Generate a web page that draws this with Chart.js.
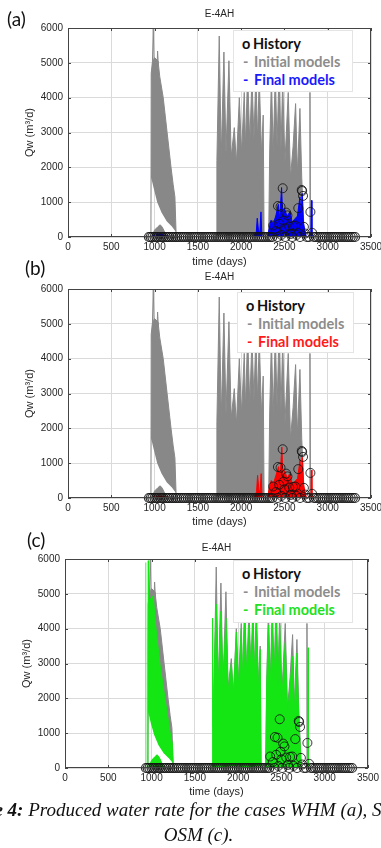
<!DOCTYPE html>
<html lang="en">
<head>
<meta charset="UTF-8">
<title>E-4AH produced water rate</title>
<script src="https://cdn.jsdelivr.net/npm/chart.js"></script>
<style>
    body { margin: 0; background: #fff; }
    #page { position: relative; width: 381px; height: 848px; overflow: hidden; background: #fff; }
    canvas { position: absolute; left: 0; }
    .tag { position: absolute; font-family: Lato, sans-serif; font-size: 19px; line-height: 22px; color: #111; }
    .leg { position: absolute; background: #fff; border: 1px solid #e4e4e4; box-sizing: border-box;
           padding: 4px 0 0 8px; font-family: Lato, sans-serif; font-weight: bold; font-size: 14.5px;
           line-height: 18px; white-space: nowrap; }
    .leg .m { display: inline-block; width: 11px; }
    .leg .d { display: inline-block; width: 12px; text-indent: 1px; }
    .cap { position: absolute; font-family: 'Liberation Serif', serif; font-style: italic; font-size: 19px;
           line-height: 22px; white-space: nowrap; color: #111; }
</style>
</head>
<body>
<div id="page">
    <canvas id="cA" width="381" height="270" style="top:0;width:381px;height:270px"></canvas>
    <canvas id="cB" width="381" height="268" style="top:262px;width:381px;height:268px"></canvas>
    <canvas id="cC" width="381" height="270" style="top:531px;width:381px;height:270px"></canvas>

    <div class="tag" style="left:7px;top:8px">(a)</div>
    <div class="tag" style="left:25px;top:257px">(b)</div>
    <div class="tag" style="left:27px;top:529px">(c)</div>

    <div class="leg" style="left:233px;top:30px;width:120px;height:62px">
        <div style="color:#111"><span class="m">o</span>History</div>
        <div style="color:#8c8c8c"><span class="d">-</span>Initial models</div>
        <div style="color:#1a1aff"><span class="d">-</span>Final models</div>
    </div>
    <div class="leg" style="left:237px;top:292px;width:117px;height:61px">
        <div style="color:#111"><span class="m">o</span>History</div>
        <div style="color:#8c8c8c"><span class="d">-</span>Initial models</div>
        <div style="color:#ff1a1a"><span class="d">-</span>Final models</div>
    </div>
    <div class="leg" style="left:233px;top:560px;width:120px;height:63px">
        <div style="color:#111"><span class="m">o</span>History</div>
        <div style="color:#8c8c8c"><span class="d">-</span>Initial models</div>
        <div style="color:#22e022"><span class="d">-</span>Final models</div>
    </div>

    <div class="cap" style="left:-51px;top:799px"><b>Figure 4:</b> Produced water rate for the cases WHM (a), SHM (b) and</div>
    <div class="cap" style="left:8px;top:824px;width:381px;text-align:center">OSM (c).</div>
</div>

<script>
    // axes
    const xTicks = [0, 500, 1000, 1500, 2000, 2500, 3000, 3500];
    const yTicks = [0, 1000, 2000, 3000, 4000, 5000, 6000];

    // initial models (same ensemble in all three panels)
    const initEarlyTop_t = [958, 961, 975, 1000, 1040, 1060, 1100, 1145, 1190, 1215, 1235, 1250];
    const initEarlyTop_q = [0, 4700, 5000, 5150, 5050, 4600, 4000, 3000, 2000, 1500, 1150, 0];
    const initEarlyLow_t = [958, 961, 990, 1030, 1080, 1140, 1200, 1245, 1250];
    const initEarlyLow_q = [0, 1700, 1400, 1000, 700, 450, 300, 150, 0];
    const initHump_t = [965, 1000, 1040, 1065, 1090, 1120, 1150];
    const initHump_q = [0, 200, 300, 350, 280, 120, 0];
    const initSpike_t = [970, 985, 996, 1010, 1026, 1035, 1044, 1500, 2788, 2795, 2802];
    const initSpike_q = [4500, 6000, 4800, null, 4700, 5340, 4900, null, 0, 4150, 0];
    const initLate_t = [1712, 1720, 1747, 1770, 1801, 1825, 1859, 1885, 1921, 1945, 1979, 2005, 2036, 2050,
        2075, 2100, 2125, 2148, 2170, 2190, 2209, 2235, 2255, 2265, 2318, 2330, 2350, 2370, 2395, 2415,
        2440, 2460, 2480, 2505, 2544, 2570, 2600, 2629, 2650, 2679, 2700, 2730];
    const initLate_q = [0, 2200, 5770, 2300, 5310, 2400, 5060, 2300, 3140, 2100, 4000, 2400, 4150, 2600,
        4700, 2700, 4600, 2800, 4700, 2800, 4600, 2400, 3500, 0, 0, 2500, 4600, 2400, 4700, 2600,
        5000, 2500, 4500, 2100, 4150, 1700, 2600, 3830, 1800, 3690, 1700, 0];

    // final models, WHM (a)
    const whm_t = [960, 990, 1020, 1050, 1080, 1110, 1140, 1200, 1250, 1700, 2140, 2175, 2186, 2200, 2215,
        2229, 2240, 2305, 2320, 2345, 2370, 2400, 2429, 2445, 2467, 2480, 2500, 2530, 2563, 2590, 2620,
        2650, 2679, 2690, 2705, 2720, 2740, 2755, 2780, 2805, 2812, 2818];
    const whm_q = [0, 60, 90, 70, 90, 40, 30, 10, 0, null, 0, 150, 540, 200, 100,
        720, 0, 0, 200, 480, 380, 600, 940, 500, 1420, 650, 820, 600, 720, 420, 520,
        600, 1150, 500, 1250, 400, 150, 0, null, 0, 1050, 0];

    // final models, SHM (b)
    const shm_t = [960, 1000, 1040, 1080, 1120, 1250, 1700, 2150, 2178, 2190, 2205, 2218, 2231, 2242, 2305,
        2322, 2348, 2372, 2402, 2432, 2448, 2470, 2482, 2503, 2532, 2560, 2592, 2622, 2652, 2680, 2692,
        2706, 2722, 2742, 2758, 2780, 2806, 2812, 2818];
    const shm_q = [0, 40, 60, 50, 30, 0, null, 0, 180, 650, 250, 120, 700, 0, 0,
        250, 500, 400, 650, 900, 520, 1460, 620, 780, 560, 700, 400, 480, 560, 1100, 480,
        1170, 380, 120, 0, null, 0, 800, 0];

    // final models, OSM (c)
    const osmEarlyTop_t = [955, 958, 962, 966, 975, 1000, 1020, 1036, 1051, 1097, 1155, 1212, 1240, 1252];
    const osmEarlyTop_q = [0, 3500, 5950, 4600, 4800, 4900, 4950, 4400, 4000, 2960, 2000, 1040, 700, 0];
    const osmEarlyLow_t = [955, 962, 990, 1030, 1080, 1140, 1200, 1245, 1252];
    const osmEarlyLow_q = [0, 1600, 1300, 950, 650, 420, 280, 150, 0];
    const osmHump_t = [970, 1000, 1040, 1065, 1090, 1120, 1150];
    const osmHump_q = [0, 220, 330, 380, 300, 130, 0];
    const osmFaint_t = [930, 933, 936];
    const osmFaint_q = [0, 5900, 0];
    const osmLate_t = [1700, 1705, 1710, 1722, 1747, 1770, 1801, 1825, 1859, 1885, 1921, 1945, 1979, 2005,
        2036, 2050, 2075, 2100, 2125, 2148, 2170, 2190, 2213, 2235, 2255, 2265, 2318, 2330, 2350, 2370,
        2395, 2415, 2440, 2460, 2480, 2505, 2544, 2570, 2600, 2629, 2650, 2679, 2700, 2730, 2803, 2808, 2813];
    const osmLate_q = [0, 4300, 1200, 2600, 4700, 2300, 4500, 2300, 4300, 2200, 3000, 2000, 3900, 2300,
        4000, 2500, 4300, 2600, 4100, 2700, 4200, 2700, 4200, 2200, 3400, 0, 0, 2400, 4100, 2300,
        4200, 2500, 4300, 2300, 4100, 2000, 3600, 1500, 2400, 3200, 1600, 3300, 1400, 0, 0, 3450, 0];

    // history
    const histZero_t = [935, 955, 975, 1000, 1020, 1040, 1065, 1085, 1105, 1130, 1150, 1170, 1195, 1215, 1240,
        1260, 1285, 1310, 1335, 1360, 1385, 1410, 1435, 1460, 1485, 1510, 1535, 1560, 1585, 1610, 1635,
        1660, 1685, 1710, 1735, 1760, 1785, 1810, 1835, 1860, 1885, 1910, 1935, 1960, 1985, 2010, 2035,
        2060, 2085, 2110, 2135, 2160, 2185, 2210, 2235, 2260, 2285, 2310, 2335, 2360, 2420, 2510, 2590,
        2680, 2760, 2785, 2840, 2865, 2890, 2915, 2940, 2965, 2990, 3015, 3040, 3065, 3090, 3115, 3140,
        3165, 3190, 3215, 3240, 3265, 3290, 3315];
    const hist_t = [2370, 2400, 2425, 2440, 2455, 2465, 2480, 2490, 2500, 2520, 2535, 2555, 2575, 2600, 2625,
        2640, 2660, 2700, 2705, 2715, 2725, 2740, 2800, 2820];
    const hist_q = [330, 170, 890, 380, 870, 60, 1400, 470, 250, 700, 620, 300, 90, 320, 330,
        60, 830, 1350, 1320, 1180, 290, 100, 720, 120];

    const GRAY = '#888888';
    const FONT = "'Liberation Sans', Arial, sans-serif";
    const INK = '#262626';

    function pts(t, q) {
        return t.map((x, i) => ({ x: x, y: q[i] }));
    }

    function line(t, q, color, fill, width) {
        return {
            data: pts(t, q), borderColor: color, backgroundColor: color,
            borderWidth: width === undefined ? 1 : width,
            pointRadius: 0, fill: fill, tension: 0
        };
    }

    function historySets() {
        return [
            { data: histZero_t.map(x => ({ x: x, y: 0 })), showLine: false, pointRadius: 4.5,
              pointBorderColor: 'rgba(20,20,20,0.9)', pointBackgroundColor: 'rgba(0,0,0,0)',
              pointBorderWidth: 1.2, clip: 8 },
            { data: pts(hist_t, hist_q), showLine: false, pointRadius: 4.5,
              pointBorderColor: 'rgba(20,20,20,0.85)', pointBackgroundColor: 'rgba(0,0,0,0)',
              pointBorderWidth: 1, clip: 8 }
        ];
    }

    function initialSets() {
        return [
            line(initSpike_t, initSpike_q, GRAY, false),
            line(initLate_t, initLate_q, GRAY, 'origin'),
            line(initHump_t, initHump_q, GRAY, 'origin'),
            line(initEarlyTop_t, initEarlyTop_q, GRAY, '+1'),
            line(initEarlyLow_t, initEarlyLow_q, GRAY, false, 0)
        ];
    }

    const frame = {
        id: 'frame',
        afterDatasetsDraw(chart) {
            const { ctx, chartArea: a, scales } = chart;
            ctx.save();
            ctx.strokeStyle = '#444';
            ctx.lineWidth = 1;
            ctx.strokeRect(a.left + 0.5, a.top + 0.5, a.right - a.left - 1, a.bottom - a.top - 1);
            ctx.beginPath();
            xTicks.forEach(v => {
                const px = Math.round(scales.x.getPixelForValue(v)) + 0.5;
                ctx.moveTo(px, a.bottom); ctx.lineTo(px, a.bottom - 3);
                ctx.moveTo(px, a.top); ctx.lineTo(px, a.top + 3);
            });
            yTicks.forEach(v => {
                const py = Math.round(scales.y.getPixelForValue(v)) + 0.5;
                ctx.moveTo(a.left, py); ctx.lineTo(a.left + 3, py);
                ctx.moveTo(a.right, py); ctx.lineTo(a.right - 3, py);
            });
            ctx.stroke();
            ctx.restore();
        }
    };

    function makeChart(id, box, datasets) {
        new Chart(document.getElementById(id), {
            type: 'line',
            data: { datasets: datasets },
            options: {
                responsive: false,
                animation: false,
                devicePixelRatio: 1,
                events: [],
                layout: { padding: { left: 0, right: 381 - box.right, top: 0, bottom: 0 } },
                plugins: {
                    legend: { display: false },
                    tooltip: { enabled: false },
                    title: {
                        display: true, text: 'E-4AH', fullSize: false, color: INK,
                        font: { family: FONT, size: 10, weight: 'normal' },
                        padding: { top: box.tp, bottom: box.top - box.tp - 12 }
                    }
                },
                scales: {
                    x: {
                        type: 'linear', min: 0, max: 3500,
                        afterBuildTicks: s => { s.ticks = xTicks.map(v => ({ value: v })); },
                        afterFit: s => { s.height = box.h - box.bottom; s.paddingLeft = 0; s.paddingRight = 0; },
                        grid: { color: '#dadada', drawTicks: false },
                        border: { display: false },
                        ticks: { padding: 4, maxRotation: 0, autoSkip: false, color: INK,
                                 font: { family: FONT, size: 10 }, callback: v => String(v) },
                        title: { display: true, text: 'time (days)', color: INK,
                                 font: { family: FONT, size: 11 }, padding: { top: 0, bottom: box.xtp } }
                    },
                    y: {
                        min: 0, max: 6000,
                        afterBuildTicks: s => { s.ticks = yTicks.map(v => ({ value: v })); },
                        afterFit: s => { s.width = box.left; s.paddingTop = 0; s.paddingBottom = 0; },
                        grid: { color: '#dadada', drawTicks: false },
                        border: { display: false },
                        ticks: { padding: 5, color: INK, font: { family: FONT, size: 10 },
                                 callback: v => String(v) },
                        title: { display: true, text: 'Qw (m³/d)', color: INK,
                                 font: { family: FONT, size: 11 }, padding: { top: box.left - 45, bottom: 0 } }
                    }
                }
            },
            plugins: [frame]
        });
    }

    makeChart('cA', { left: 68, right: 371, top: 28, bottom: 237, h: 270, tp: 8, xtp: 1.4 },
        historySets().concat([line(whm_t, whm_q, '#0000ff', 'origin')], initialSets()));

    makeChart('cB', { left: 68, right: 371, top: 27, bottom: 236, h: 268, tp: 9, xtp: 1.4 },
        historySets().concat([line(shm_t, shm_q, '#ff0000', 'origin')], initialSets()));

    makeChart('cC', { left: 65, right: 368, top: 28, bottom: 237, h: 270, tp: 11, xtp: 2.4 },
        historySets().concat([
            line(osmLate_t, osmLate_q, '#14e614', 'origin'),
            line(osmFaint_t, osmFaint_q, 'rgba(20,230,20,0.45)', false),
            line(osmHump_t, osmHump_q, '#14e614', 'origin'),
            line(osmEarlyTop_t, osmEarlyTop_q, '#14e614', '+1'),
            line(osmEarlyLow_t, osmEarlyLow_q, '#14e614', false, 0)
        ], initialSets()));
</script>
</body>
</html>
